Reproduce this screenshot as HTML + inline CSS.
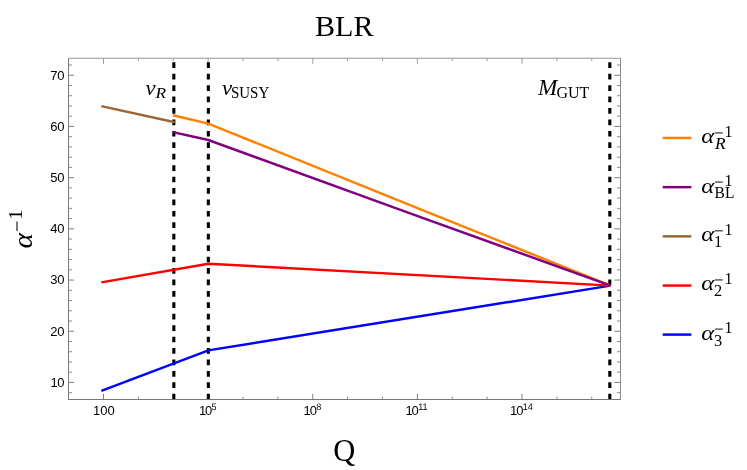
<!DOCTYPE html>
<html><head><meta charset="utf-8"><title>BLR</title>
<style>
html,body{margin:0;padding:0;background:#fff;}
body{width:747px;height:470px;overflow:hidden;font-family:"Liberation Sans",sans-serif;}
svg{display:block;will-change:transform;}
.tk{font-family:"Liberation Sans",sans-serif;font-size:13px;fill:#000;}
.sup{font-family:"Liberation Sans",sans-serif;fill:#000;text-rendering:geometricPrecision;}
.se{font-family:"Liberation Serif",serif;fill:#000;}
.it{font-family:"Liberation Serif",serif;font-style:italic;fill:#000;}
</style></head><body>
<svg width="747" height="470" viewBox="0 0 747 470">
<rect x="0" y="0" width="747" height="470" fill="#ffffff"/>
<text class="se" x="344.3" y="35.5" font-size="30.3" text-anchor="middle" textLength="58.5" lengthAdjust="spacingAndGlyphs">BLR</text>
<text class="se" x="344.2" y="460.6" font-size="30.5" text-anchor="middle">Q</text>
<g transform="translate(32.1,248.6) rotate(-90)"><text class="it" x="0" y="0" font-size="26.8" transform="scale(1.10,1)">α</text><line x1="17.7" y1="-15.1" x2="27.1" y2="-15.1" stroke="#000" stroke-width="1.05"/><text class="se" x="28.6" y="-10.0" font-size="18.6" transform="translate(28.6,0) scale(1.15,1) translate(-28.6,0)">1</text></g>
<path d="M68.50 382.45h5.5M620.50 382.45h-6.2M68.50 331.25h5.5M620.50 331.25h-6.2M68.50 280.05h5.5M620.50 280.05h-6.2M68.50 228.85h5.5M620.50 228.85h-6.2M68.50 177.65h5.5M620.50 177.65h-6.2M68.50 126.45h5.5M620.50 126.45h-6.2M68.50 75.25h5.5M620.50 75.25h-6.2M103.50 399.50v-5.6M208.12 399.50v-5.6M312.75 399.50v-5.6M417.38 399.50v-5.6M522.00 399.50v-5.6" stroke="#555" stroke-width="0.75" fill="none"/>
<path d="M68.50 392.69h3.5M620.50 392.69h-3.5M68.50 372.21h3.5M620.50 372.21h-3.5M68.50 361.97h3.5M620.50 361.97h-3.5M68.50 351.73h3.5M620.50 351.73h-3.5M68.50 341.49h3.5M620.50 341.49h-3.5M68.50 321.01h3.5M620.50 321.01h-3.5M68.50 310.77h3.5M620.50 310.77h-3.5M68.50 300.53h3.5M620.50 300.53h-3.5M68.50 290.29h3.5M620.50 290.29h-3.5M68.50 269.81h3.5M620.50 269.81h-3.5M68.50 259.57h3.5M620.50 259.57h-3.5M68.50 249.33h3.5M620.50 249.33h-3.5M68.50 239.09h3.5M620.50 239.09h-3.5M68.50 218.61h3.5M620.50 218.61h-3.5M68.50 208.37h3.5M620.50 208.37h-3.5M68.50 198.13h3.5M620.50 198.13h-3.5M68.50 187.89h3.5M620.50 187.89h-3.5M68.50 167.41h3.5M620.50 167.41h-3.5M68.50 157.17h3.5M620.50 157.17h-3.5M68.50 146.93h3.5M620.50 146.93h-3.5M68.50 136.69h3.5M620.50 136.69h-3.5M68.50 116.21h3.5M620.50 116.21h-3.5M68.50 105.97h3.5M620.50 105.97h-3.5M68.50 95.73h3.5M620.50 95.73h-3.5M68.50 85.49h3.5M620.50 85.49h-3.5M68.50 65.01h3.5M620.50 65.01h-3.5M138.38 399.50v-2.9M173.25 399.50v-2.9M243.00 399.50v-2.9M277.88 399.50v-2.9M347.62 399.50v-2.9M382.50 399.50v-2.9M452.25 399.50v-2.9M487.12 399.50v-2.9M556.88 399.50v-2.9M591.75 399.50v-2.9" stroke="#777" stroke-width="0.85" fill="none"/>
<path d="M103.50 58.30v5.6M138.38 58.30v2.9M173.25 58.30v2.9M208.12 58.30v5.6M243.00 58.30v2.9M277.88 58.30v2.9M312.75 58.30v5.6M347.62 58.30v2.9M382.50 58.30v2.9M417.38 58.30v5.6M452.25 58.30v2.9M487.12 58.30v2.9M522.00 58.30v5.6M556.88 58.30v2.9M591.75 58.30v2.9" stroke="#777" stroke-width="0.7" fill="none"/>
<line x1="173.83" y1="399.50" x2="173.83" y2="59.30" stroke="#000" stroke-width="3.1" stroke-dasharray="5.7 5.73"/>
<line x1="208.34" y1="399.50" x2="208.34" y2="59.30" stroke="#000" stroke-width="3.1" stroke-dasharray="5.7 5.73"/>
<line x1="609.80" y1="399.50" x2="609.80" y2="59.30" stroke="#000" stroke-width="3.1" stroke-dasharray="5.7 5.73"/>
<polyline points="101.30,390.80 208.34,350.40 610.50,285.63" fill="none" stroke="#0000ff" stroke-width="2.45" stroke-linejoin="miter"/>
<polyline points="101.30,282.35 208.34,263.67 610.50,285.63" fill="none" stroke="#ff0000" stroke-width="2.45" stroke-linejoin="miter"/>
<polyline points="101.30,106.17 174.83,122.25" fill="none" stroke="#996633" stroke-width="2.45" stroke-linejoin="miter"/>
<polyline points="172.83,115.19 208.34,123.58 409.42,204.81 610.50,285.63" fill="none" stroke="#ff8000" stroke-width="2.45" stroke-linejoin="miter"/>
<polyline points="172.83,132.08 208.34,140.02 409.42,213.07 610.50,285.63" fill="none" stroke="#800080" stroke-width="2.45" stroke-linejoin="miter"/>
<path d="M68.5 58.3V399.5M68.0 399.5H621.0" stroke="#787878" stroke-width="1" fill="none"/>
<path d="M620.5 58.3V399.5" stroke="#8c8c8c" stroke-width="1" fill="none"/>
<path d="M68.0 58.3H621.0" stroke="#949494" stroke-width="1.1" fill="none"/>
<text class="tk" x="57.77" y="386.75" text-anchor="end">1</text><text class="tk" x="64.6" y="386.75" text-anchor="end">0</text>
<text class="tk" x="64.6" y="335.55" text-anchor="end">20</text>
<text class="tk" x="64.6" y="284.35" text-anchor="end">30</text>
<text class="tk" x="64.6" y="233.15" text-anchor="end">40</text>
<text class="tk" x="64.6" y="181.95" text-anchor="end">50</text>
<text class="tk" x="64.6" y="130.75" text-anchor="end">60</text>
<text class="tk" x="64.6" y="79.55" text-anchor="end">70</text>
<text class="tk" x="103.80" y="415.2" text-anchor="middle">100</text>
<text class="tk" x="198.93" y="415.2">1</text><text class="tk" x="205.03" y="415.2">0</text><text class="sup" x="0" y="409.9" font-size="9.4" transform="translate(211.58,0) scale(0.97,1)">5</text>
<text class="tk" x="303.55" y="415.2">1</text><text class="tk" x="309.65" y="415.2">0</text><text class="sup" x="0" y="409.9" font-size="9.4" transform="translate(316.2,0) scale(0.97,1)">8</text>
<text class="tk" x="405.48" y="415.2">1</text><text class="tk" x="411.58" y="415.2">0</text><text class="sup" x="0" y="409.9" font-size="9.4" transform="translate(418.13,0) scale(0.97,1)">11</text>
<text class="tk" x="510.10" y="415.2">1</text><text class="tk" x="516.20" y="415.2">0</text><text class="sup" x="0" y="409.9" font-size="9.4" transform="translate(522.75,0) scale(0.97,1)">14</text>
<text class="it" x="0" y="94.6" font-size="20.8" transform="translate(145.6,0) scale(1.09,1)">v</text><text class="it" x="0" y="98.3" font-size="15.5" transform="translate(155.4,0) scale(1.12,1)">R</text>
<text class="it" x="0" y="94.6" font-size="20.8" transform="translate(222.0,0) scale(1.09,1)">v</text><text class="se" x="231.0" y="98.2" font-size="16.3" textLength="38.2" lengthAdjust="spacingAndGlyphs">SUSY</text>
<text class="it" x="0" y="94.7" font-size="22.8" transform="translate(538.0,0) scale(1.02,1)">M</text><text class="se" x="556.4" y="98.3" font-size="16.8" textLength="32.8" lengthAdjust="spacingAndGlyphs">GUT</text>
<line x1="662.7" y1="137.95" x2="691.4" y2="137.95" stroke="#ff8000" stroke-width="2.45"/>
<text class="it" x="0" y="143.5" font-size="21.4" transform="translate(701.3,0) scale(1.16,1)">α</text><line x1="714.9" y1="132.95" x2="722.8" y2="132.95" stroke="#000" stroke-width="0.95"/><text class="se" x="724.4" y="137.25" font-size="16.0">1</text><text class="it" x="0" y="148.85" font-size="16.6" transform="translate(715.0,0) scale(1.05,1)">R</text>
<line x1="662.7" y1="187.15" x2="691.4" y2="187.15" stroke="#800080" stroke-width="2.45"/>
<text class="it" x="0" y="192.6" font-size="21.4" transform="translate(701.3,0) scale(1.16,1)">α</text><line x1="714.9" y1="182.05" x2="722.8" y2="182.05" stroke="#000" stroke-width="0.95"/><text class="se" x="724.4" y="186.35" font-size="16.0">1</text><text class="se" x="714.6" y="197.8" font-size="16.2" textLength="19.8" lengthAdjust="spacingAndGlyphs">BL</text>
<line x1="662.7" y1="236.35" x2="691.4" y2="236.35" stroke="#996633" stroke-width="2.45"/>
<text class="it" x="0" y="241.4" font-size="21.4" transform="translate(701.3,0) scale(1.16,1)">α</text><line x1="714.9" y1="230.85" x2="722.8" y2="230.85" stroke="#000" stroke-width="0.95"/><text class="se" x="724.4" y="235.15" font-size="16.0">1</text><text class="se" x="714.0" y="246.95" font-size="16.4">1</text>
<line x1="662.7" y1="285.55" x2="691.4" y2="285.55" stroke="#ff0000" stroke-width="2.45"/>
<text class="it" x="0" y="290.5" font-size="21.4" transform="translate(701.3,0) scale(1.16,1)">α</text><line x1="714.9" y1="279.95" x2="722.8" y2="279.95" stroke="#000" stroke-width="0.95"/><text class="se" x="724.4" y="284.25" font-size="16.0">1</text><text class="se" x="714.0" y="296.45" font-size="16.4">2</text>
<line x1="662.7" y1="334.6" x2="691.4" y2="334.6" stroke="#0000ff" stroke-width="2.45"/>
<text class="it" x="0" y="339.65" font-size="21.4" transform="translate(701.3,0) scale(1.16,1)">α</text><line x1="714.9" y1="329.10" x2="722.8" y2="329.10" stroke="#000" stroke-width="0.95"/><text class="se" x="724.4" y="333.4" font-size="16.0">1</text><text class="se" x="714.0" y="345.5" font-size="16.4">3</text>
</svg>
</body></html>
